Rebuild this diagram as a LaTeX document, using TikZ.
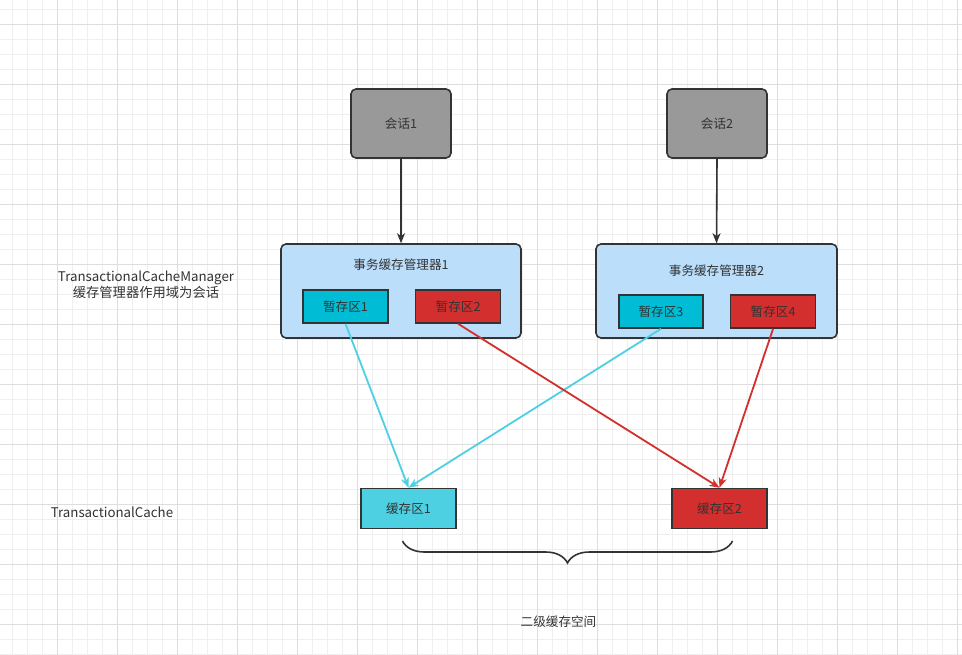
\documentclass[tikz,border=0pt]{standalone}
\usepackage{fontspec}
\setmainfont{Noto Sans CJK SC}
\usetikzlibrary{arrows.meta, positioning, decorations.pathreplacing}
\definecolor{textgray}{HTML}{333333}
\definecolor{sessioncolor}{HTML}{999999}
\definecolor{managercolor}{HTML}{BBDEFB}
\definecolor{tempcyan}{HTML}{00BCD4}
\definecolor{cachecyan}{HTML}{4DD0E1}
\definecolor{cachered}{HTML}{D32F2F}
\definecolor{gridminor}{HTML}{EFEFEF}
\definecolor{gridmajor}{HTML}{DEDEDE}

\begin{document}
\begin{tikzpicture}[
    x=1pt, y=-1pt,
    every node/.style={font=\fontsize{12.6}{16}\selectfont, text=textgray},
    session/.style={rectangle, draw=textgray, line width=1.6pt, rounded corners=5pt, fill=sessioncolor, minimum width=100pt, minimum height=69pt, inner sep=0pt},
    manager/.style={rectangle, draw=textgray, line width=1.6pt, rounded corners=5pt, fill=managercolor, minimum height=94pt, inner sep=0pt},
    tempbox/.style={rectangle, draw=textgray, line width=1.6pt, minimum width=85pt, minimum height=33pt, inner sep=0pt},
    cachebox/.style={rectangle, draw=textgray, line width=1.6pt, minimum width=95pt, minimum height=40pt, inner sep=0pt},
    sidelabel/.style={font=\fontsize{13.3}{16}\selectfont},
    arrow/.style={-{Stealth[length=10pt, width=8pt, inset=3pt]}, line width=1.6pt, draw=textgray},
    cyanarrow/.style={-{Stealth[length=10pt, width=8pt, inset=3pt]}, line width=1.8pt, draw=cachecyan},
    redarrow/.style={-{Stealth[length=10pt, width=8pt, inset=3pt]}, line width=1.8pt, draw=cachered},
    bracestyle/.style={decorate, decoration={brace, mirror, amplitude=22pt}, line width=1.6pt, draw=textgray}
]

    % Background grid
    \useasboundingbox[fill=white] (0,0) rectangle (962,655);
    \begin{scope}[shift={(12pt,-9pt)}]
        \draw[gridminor, line width=0.7pt, step=15pt] (-12pt,-646pt) grid (950pt,9pt);
    \end{scope}
    \begin{scope}[shift={(57pt,-24pt)}]
        \draw[gridmajor, line width=0.7pt, step=60pt] (-57pt,-631pt) grid (905pt,24pt);
    \end{scope}

    % Sessions
    \node[session] (sess1) at (401,123.5) {会话1};
    \node[session] (sess2) at (717,123.5) {会话2};

    % Transactional cache managers
    \node[manager, minimum width=240pt] (mgr1) at (401,291) {};
    \node (mgr1title) at (401,264.5) {事务缓存管理器1};
    \node[tempbox, fill=tempcyan] (buf1) at (345.5,306.5) {暂存区1};
    \node[tempbox, fill=cachered, right=26pt of buf1] (buf2) {暂存区2};

    \node[manager, minimum width=241pt] (mgr2) at (716.5,291) {};
    \node (mgr2title) at (716.5,271) {事务缓存管理器2};
    \node[tempbox, fill=tempcyan, minimum width=84pt] (buf3) at (661,311.5) {暂存区3};
    \node[tempbox, fill=cachered, right=26pt of buf3] (buf4) {暂存区4};

    % Transactional caches
    \node[cachebox, fill=cachecyan] (cache1) at (408.5,508.5) {缓存区1};
    \node[cachebox, fill=cachered] (cache2) at (719.5,508.5) {缓存区2};

    % Side labels
    \node[sidelabel, align=center] (tcmlabel) at (146,284.7) {TransactionalCacheManager\\缓存管理器作用域为会话};
    \node[sidelabel] (tclabel) at (112,512.5) {TransactionalCache};

    % Brace and level-2 label
    \coordinate (braceleft) at (402.5,541);
    \coordinate (braceright) at (732.5,541);
    \draw[bracestyle] (braceleft) -- (braceright);
    \node (l2label) at (558.5,622) {二级缓存空间};

    % Relationships
    \draw[arrow] (sess1.south) -- (mgr1.north);
    \draw[arrow] (sess2.south) -- (mgr2.north);
    \draw[cyanarrow] (buf1.south) -- (cache1.north);
    \draw[cyanarrow] (buf3.south) -- (cache1.north);
    \draw[redarrow] (buf2.south) -- (cache2.north);
    \draw[redarrow] (buf4.south) -- (cache2.north);

\end{tikzpicture}
\end{document}
